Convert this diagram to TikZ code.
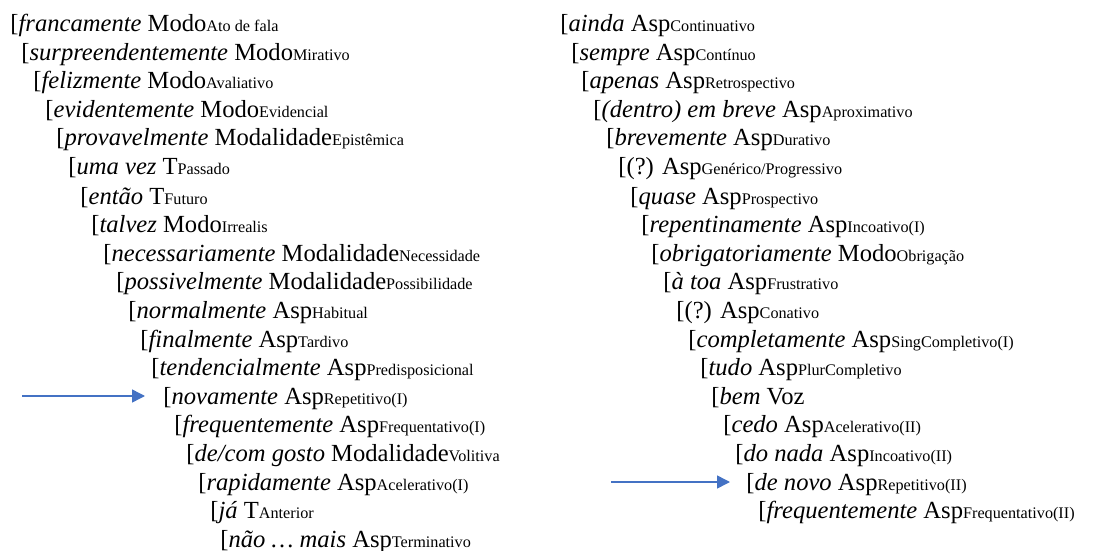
\documentclass[tikz,border=0pt]{standalone}
\usepackage{fontspec}
\setmainfont{Liberation Serif}
\usetikzlibrary{arrows.meta,calc}
\definecolor{arrowblue}{RGB}{68,114,196}
\newcommand{\lsub}[1]{{\fontsize{8.1pt}{10pt}\selectfont #1}}

\begin{document}
\begin{tikzpicture}[x=0.5pt, y=-0.5pt]
  \tikzset{
      row/.style={anchor=base west, inner sep=0pt, font=\fontsize{12.3pt}{15pt}\selectfont},
      pointer/.style={draw=arrowblue, line width=0.75pt, -{Triangle[length=6.5pt,width=6.5pt]}}
  }
  \useasboundingbox (0,0) rectangle (1108,551);

  % left hierarchy
  \node[row] (l1)  at (10, 32)  {[\textit{francamente} Modo\lsub{Ato de fala}};
  \node[row] (l2)  at (21, 61)  {[\textit{surpreendentemente} Modo\lsub{Mirativo}};
  \node[row] (l3)  at (33, 89)  {[\textit{felizmente} Modo\lsub{Avaliativo}};
  \node[row] (l4)  at (45, 118) {[\textit{evidentemente} Modo\lsub{Evidencial}};
  \node[row] (l5)  at (56, 146) {[\textit{provavelmente} Modalidade\lsub{Epistêmica}};
  \node[row] (l6)  at (68, 175) {[\textit{uma vez} T\lsub{Passado}};
  \node[row] (l7)  at (80, 204) {[\textit{então} T\lsub{Futuro}};
  \node[row] (l8)  at (91, 232) {[\textit{talvez} Modo\lsub{Irrealis}};
  \node[row] (l9)  at (103, 261) {[\textit{necessariamente} Modalidade\lsub{Necessidade}};
  \node[row] (l10) at (116, 289) {[\textit{possivelmente} Modalidade\lsub{Possibilidade}};
  \node[row] (l11) at (128, 318) {[\textit{normalmente} Asp\lsub{Habitual}};
  \node[row] (l12) at (140, 347) {[\textit{finalmente} Asp\lsub{Tardivo}};
  \node[row] (l13) at (151, 375) {[\textit{tendencialmente} Asp\lsub{Predisposicional}};
  \node[row] (l14) at (163, 404) {[\textit{novamente} Asp\lsub{Repetitivo(I)}};
  \node[row] (l15) at (174, 432) {[\textit{frequentemente} Asp\lsub{Frequentativo(I)}};
  \node[row] (l16) at (186, 461) {[\textit{de/com gosto} Modalidade\lsub{Volitiva}};
  \node[row] (l17) at (198, 490) {[\textit{rapidamente} Asp\lsub{Acelerativo(I)}};
  \node[row] (l18) at (210, 518) {[\textit{já} T\lsub{Anterior}};
  \node[row] (l19) at (220, 547) {[\textit{não \dots\ mais} Asp\lsub{Terminativo}};

  % right hierarchy
  \node[row] (r1)  at (560, 32)  {[\textit{ainda} Asp\lsub{Continuativo}};
  \node[row] (r2)  at (571, 61)  {[\textit{sempre} Asp\lsub{Contínuo}};
  \node[row] (r3)  at (581, 89)  {[\textit{apenas} Asp\lsub{Retrospectivo}};
  \node[row] (r4)  at (593, 118) {[\textit{(dentro) em breve} Asp\lsub{Aproximativo}};
  \node[row] (r5)  at (606, 146) {[\textit{brevemente} Asp\lsub{Durativo}};
  \node[row] (r6)  at (618, 175) {[(?) Asp\lsub{Genérico/Progressivo}};
  \node[row] (r7)  at (630, 204) {[\textit{quase} Asp\lsub{Prospectivo}};
  \node[row] (r8)  at (641, 232) {[\textit{repentinamente} Asp\lsub{Incoativo(I)}};
  \node[row] (r9)  at (651, 261) {[\textit{obrigatoriamente} Modo\lsub{Obrigação}};
  \node[row] (r10) at (663, 289) {[\textit{à toa} Asp\lsub{Frustrativo}};
  \node[row] (r11) at (676, 318) {[(?) Asp\lsub{Conativo}};
  \node[row] (r12) at (688, 347) {[\textit{completamente} Asp\lsub{SingCompletivo(I)}};
  \node[row] (r13) at (700, 375) {[\textit{tudo} Asp\lsub{PlurCompletivo}};
  \node[row] (r14) at (711, 404) {[\textit{bem} Voz};
  \node[row] (r15) at (723, 432) {[\textit{cedo} Asp\lsub{Acelerativo(II)}};
  \node[row] (r16) at (735, 461) {[\textit{do nada} Asp\lsub{Incoativo(II)}};
  \node[row] (r17) at (746, 490) {[\textit{de novo} Asp\lsub{Repetitivo(II)}};
  \node[row] (r18) at (758, 518) {[\textit{frequentemente} Asp\lsub{Frequentativo(II)}};

  % pointers
  \coordinate (arrL) at (22, 396);
  \coordinate (arrR) at (611, 482);
  \draw[pointer] (arrL) -- ($(l14.base west)+(-18,-8)$);
  \draw[pointer] (arrR) -- ($(r17.base west)+(-16,-8)$);
\end{tikzpicture}
\end{document}
